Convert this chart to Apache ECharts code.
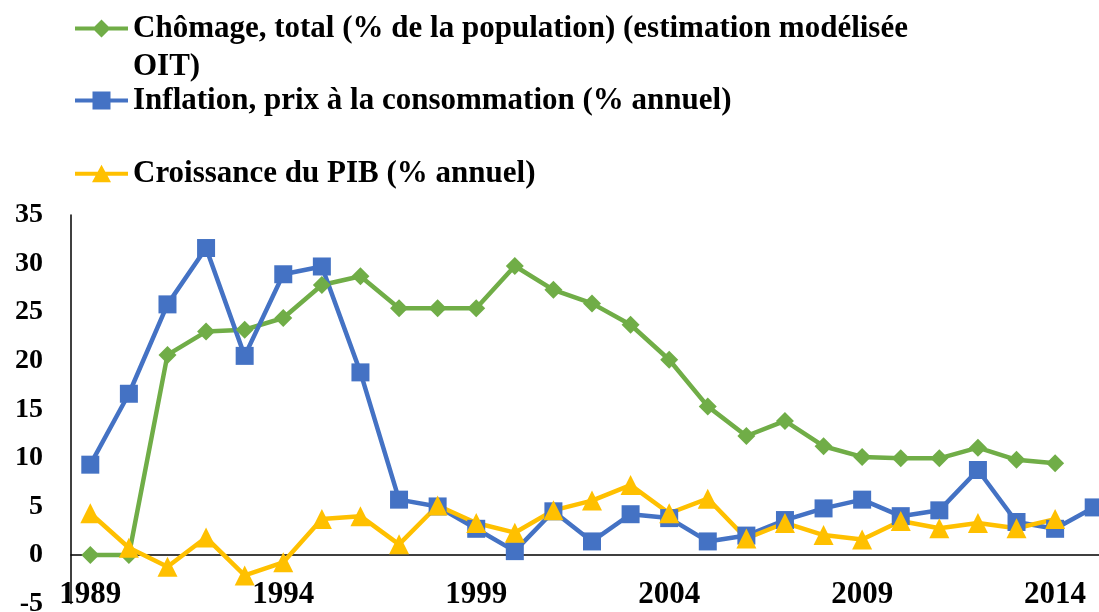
<!DOCTYPE html>
<html>
<head>
<meta charset="utf-8">
<script src="https://cdn.jsdelivr.net/npm/echarts@6/dist/echarts.min.js"></script>
<style>html,body{margin:0;padding:0;background:#fff;}#c{width:1099px;height:612px;}</style>
</head>
<body>
<div id="c"></div>
<script>
const years = ['1989','1990','1991','1992','1993','1994','1995','1996','1997','1998','1999','2000','2001','2002','2003','2004','2005','2006','2007','2008','2009','2010','2011','2012','2013','2014','2015'];
const chomage = [0, 0, 20.6, 23.0, 23.2, 24.4, 27.8, 28.7, 25.4, 25.4, 25.4, 29.75, 27.3, 25.9, 23.7, 20.1, 15.3, 12.25, 13.8, 11.2, 10.1, 9.95, 9.95, 11.05, 9.8, 9.45, null];
const inflation = [9.3, 16.6, 25.8, 31.6, 20.5, 28.9, 29.7, 18.8, 5.7, 5.0, 2.7, 0.4, 4.5, 1.4, 4.2, 3.8, 1.4, 2.0, 3.6, 4.8, 5.7, 4.0, 4.6, 8.75, 3.4, 2.7, 4.9];
const pib = [4.3, 0.75, -1.2, 1.8, -2.1, -0.75, 3.7, 4.0, 1.1, 5.1, 3.3, 2.3, 4.6, 5.6, 7.2, 4.3, 5.8, 1.7, 3.3, 2.05, 1.6, 3.5, 2.75, 3.3, 2.75, 3.7, null];
const names = ['Chômage, total (% de la population) (estimation modélisée OIT)', 'Inflation, prix à la consommation (% annuel)', 'Croissance du PIB (% annuel)'];
const legendLine1 = 'Chômage, total (% de la population) (estimation modélisée';
const legendLine2 = 'OIT)';
const yTicks = { min: -5, max: 35, interval: 5 };

// legend icons: line with marker in the middle (53 x 18 box)
const LINE = 'M0 7 L53 7 L53 11 L0 11 Z ';
const iconDiamond = 'path://' + LINE + 'M26.5 0 L35.5 9 L26.5 18 L17.5 9 Z';
const iconSquare = 'path://' + LINE + 'M17.5 0 L35.5 0 L35.5 18 L17.5 18 Z';
const iconTriangle = 'path://' + LINE + 'M26.5 0 L36 17.5 L17 17.5 Z';

const FONT = '"Liberation Serif", "DejaVu Serif", serif';
const chart = echarts.init(document.getElementById('c'));
const legendBase = {
  orient: 'vertical', left: 75, padding: 0, itemWidth: 53, itemHeight: 18,
  textStyle: { fontFamily: FONT, fontWeight: 'bold', fontSize: 31, color: '#000', lineHeight: 37 }
};
chart.setOption({
  animation: false,
  backgroundColor: '#fff',
  legend: [
    Object.assign({}, legendBase, { data: [{ name: names[0], icon: iconDiamond }], top: 10, formatter: () => legendLine1 }),
    Object.assign({}, legendBase, { data: [{ name: names[1], icon: iconSquare }], top: 82 }),
    Object.assign({}, legendBase, { data: [{ name: names[2], icon: iconTriangle }], top: 155 })
  ],
  graphic: [{
    type: 'text', left: 133, top: 51,
    style: { text: legendLine2, font: 'bold 31px ' + FONT, fill: '#000' }
  }],
  grid: { left: 71, right: -14, top: 215, bottom: 8.4, containLabel: false, outerBoundsMode: 'none' },
  xAxis: [
    {
      type: 'category', data: years, boundaryGap: true,
      axisLine: { show: false, onZero: false },
      axisTick: { show: false },
      axisLabel: { interval: 4, margin: -24, fontFamily: FONT, fontWeight: 'bold', fontSize: 31, color: '#000' },
      splitLine: { show: false }
    },
    {
      type: 'category', data: years, boundaryGap: true, position: 'bottom',
      axisLine: { show: true, onZero: true, lineStyle: { color: '#000', width: 1.5 } },
      axisTick: { show: false }, axisLabel: { show: false }, splitLine: { show: false }
    }
  ],
  yAxis: {
    type: 'value', min: yTicks.min, max: yTicks.max, interval: yTicks.interval,
    axisLine: { show: true, lineStyle: { color: '#000', width: 1.5 } },
    axisTick: { show: false },
    splitLine: { show: false },
    axisLabel: { margin: 28, fontFamily: FONT, fontWeight: 'bold', fontSize: 28, color: '#000' }
  },
  series: [
    { name: names[0], type: 'line', data: chomage, symbol: 'diamond', symbolSize: 18,
      itemStyle: { color: '#70AD47' }, lineStyle: { color: '#70AD47', width: 4.5 } },
    { name: names[1], type: 'line', data: inflation, symbol: 'rect', symbolSize: 18,
      itemStyle: { color: '#4472C4' }, lineStyle: { color: '#4472C4', width: 4.5 } },
    { name: names[2], type: 'line', data: pib, symbol: 'triangle', symbolSize: 20,
      itemStyle: { color: '#FFC000' }, lineStyle: { color: '#FFC000', width: 4.5 } }
  ]
});
</script>
</body>
</html>
